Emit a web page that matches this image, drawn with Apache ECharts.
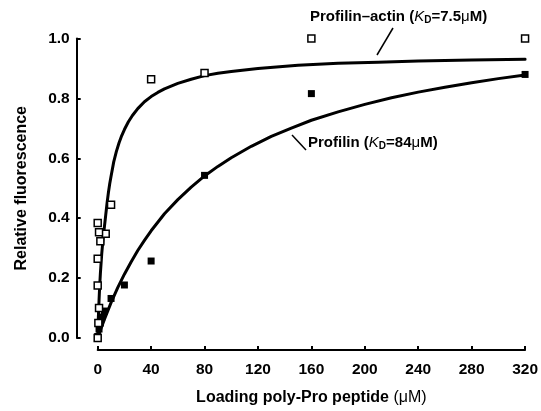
<!DOCTYPE html>
<html>
<head>
<meta charset="utf-8">
<script src="https://cdn.jsdelivr.net/npm/echarts@6/dist/echarts.min.js"></script>
<style>html,body{margin:0;padding:0;background:#fff}#c{width:541px;height:411px}</style>
</head>
<body>
<div id="c"></div>
<script>
// Data
var xTicks = [0, 40, 80, 120, 160, 200, 240, 280, 320];
var yTicks = [0.0, 0.2, 0.4, 0.6, 0.8, 1.0];

// Profilin-actin (open squares)
var actinX = [0, 0.5, 1, 0, 0, 2, 6, 1, 0, 10, 40, 80, 160, 320];
var actinY = [0.0, 0.05, 0.1, 0.175, 0.265, 0.323, 0.348, 0.353, 0.384, 0.445, 0.864, 0.885, 1.0, 1.0];
// Profilin (filled squares)
var profX = [0, 1, 2, 3, 5, 10, 20, 40, 80, 160, 320];
var profY = [0.005, 0.03, 0.05, 0.07, 0.09, 0.132, 0.177, 0.257, 0.543, 0.816, 0.88];

// Fitted curves
var actinCurveX = [0, 0.5, 1, 1.5, 2, 3, 4, 5, 6, 7, 8, 9, 10, 12, 14, 16, 18, 20, 23, 26, 30, 35, 40, 45, 50, 60, 70, 80, 90, 100, 120, 150, 180, 210, 240, 280, 320];
var actinCurveY = [0, 0.07, 0.125, 0.175, 0.215, 0.28, 0.33, 0.37, 0.41, 0.45, 0.485, 0.515, 0.54, 0.588, 0.623, 0.652, 0.676, 0.696, 0.722, 0.743, 0.766, 0.789, 0.806, 0.82, 0.832, 0.85, 0.864, 0.876, 0.884, 0.89, 0.9, 0.911, 0.917, 0.921, 0.925, 0.928, 0.931];
var profCurveX = [0, 2, 5, 10, 15, 20, 25, 30, 35, 40, 50, 60, 70, 80, 90, 100, 115, 130, 145, 160, 180, 200, 220, 240, 260, 280, 300, 320];
var profCurveY = [0, 0.026, 0.062, 0.118, 0.168, 0.213, 0.254, 0.292, 0.326, 0.358, 0.415, 0.462, 0.504, 0.541, 0.573, 0.602, 0.64, 0.673, 0.701, 0.727, 0.755, 0.78, 0.802, 0.821, 0.837, 0.852, 0.866, 0.878];

function zip(a, b) { return a.map(function (v, i) { return [v, b[i]]; }); }

var FONT = '"Liberation Sans", Arial, Helvetica, sans-serif';
var chart = echarts.init(document.getElementById('c'), null, {renderer: 'canvas'});

var labelRich = {
  b: {fontFamily: FONT, fontWeight: 'bold', fontSize: 15, fill: '#000'},
  k: {fontFamily: FONT, fontWeight: 'normal', fontStyle: 'italic', fontSize: 15, fill: '#000'},
  d: {fontFamily: FONT, fontWeight: 'bold', fontSize: 10, fill: '#000', padding: [8, 0, 0, 0]},
  u: {fontFamily: FONT, fontWeight: 'normal', fontSize: 15, fill: '#000'}
};

chart.setOption({
  animation: false,
  backgroundColor: '#fff',
  grid: {left: 97.7, right: 15.3, top: 38.5, bottom: 72.5, containLabel: false},
  xAxis: {
    type: 'value', min: 0, max: 320, interval: 40, offset: 12,
    axisLine: {show: true, onZero: false, lineStyle: {color: '#000', width: 2}},
    axisTick: {show: true, inside: true, length: 4, lineStyle: {color: '#000', width: 2}},
    axisLabel: {color: '#000', fontFamily: FONT, fontWeight: 'bold', fontSize: 15.5, margin: 12},
    splitLine: {show: false},
    name: '{b|Loading poly-Pro peptide }{u|(μM)}',
    nameLocation: 'middle', nameGap: 40,
    nameTextStyle: {
      rich: {
        b: {fontFamily: FONT, fontWeight: 'bold', fontSize: 16, color: '#000'},
        u: {fontFamily: FONT, fontWeight: 'normal', fontSize: 16, color: '#000'}
      }
    }
  },
  yAxis: {
    type: 'value', min: 0, max: 1, interval: 0.2, offset: 21,
    axisLine: {show: true, onZero: false, lineStyle: {color: '#000', width: 2}},
    axisTick: {show: true, inside: true, length: 4, lineStyle: {color: '#000', width: 2}},
    axisLabel: {color: '#000', fontFamily: FONT, fontWeight: 'bold', fontSize: 15.5, margin: 7,
      formatter: function (v) { return v.toFixed(1); }},
    splitLine: {show: false},
    name: 'Relative fluorescence', nameLocation: 'middle', nameGap: 47, nameRotate: 90,
    nameTextStyle: {color: '#000', fontFamily: FONT, fontWeight: 'bold', fontSize: 16}
  },
  series: [
    {type: 'line', data: zip(actinCurveX, actinCurveY), showSymbol: false, symbol: 'none',
      smooth: false, lineStyle: {color: '#000', width: 3, join: 'round', cap: 'round'}, z: 2},
    {type: 'line', data: zip(profCurveX, profCurveY), showSymbol: false, symbol: 'none',
      smooth: false, lineStyle: {color: '#000', width: 3, join: 'round', cap: 'round'}, z: 2},
    {type: 'scatter', data: zip(profX, profY), symbol: 'rect', symbolSize: 7, clip: false,
      itemStyle: {color: '#000', opacity: 1}, z: 3},
    {type: 'scatter', data: zip(actinX, actinY), symbol: 'rect', symbolSize: 7, clip: false,
      itemStyle: {color: '#fff', borderColor: '#000', borderWidth: 1.5, opacity: 1}, z: 4}
  ],
  graphic: [
    {type: 'text', left: 310, top: 9, z: 10,
      style: {text: '{b|Profilin–actin (}{k|K}{d|D}{b|=7.5}{u|μ}{b|M)}', rich: labelRich}},
    {type: 'line', z: 10, shape: {x1: 393, y1: 28, x2: 377, y2: 55}, style: {stroke: '#000', lineWidth: 1.5}},
    {type: 'text', left: 308, top: 135, z: 10,
      style: {text: '{b|Profilin (}{k|K}{d|D}{b|=84}{u|μ}{b|M)}', rich: labelRich}},
    {type: 'line', z: 10, shape: {x1: 292, y1: 135, x2: 306, y2: 150}, style: {stroke: '#000', lineWidth: 1.5}}
  ]
});
</script>
</body>
</html>
